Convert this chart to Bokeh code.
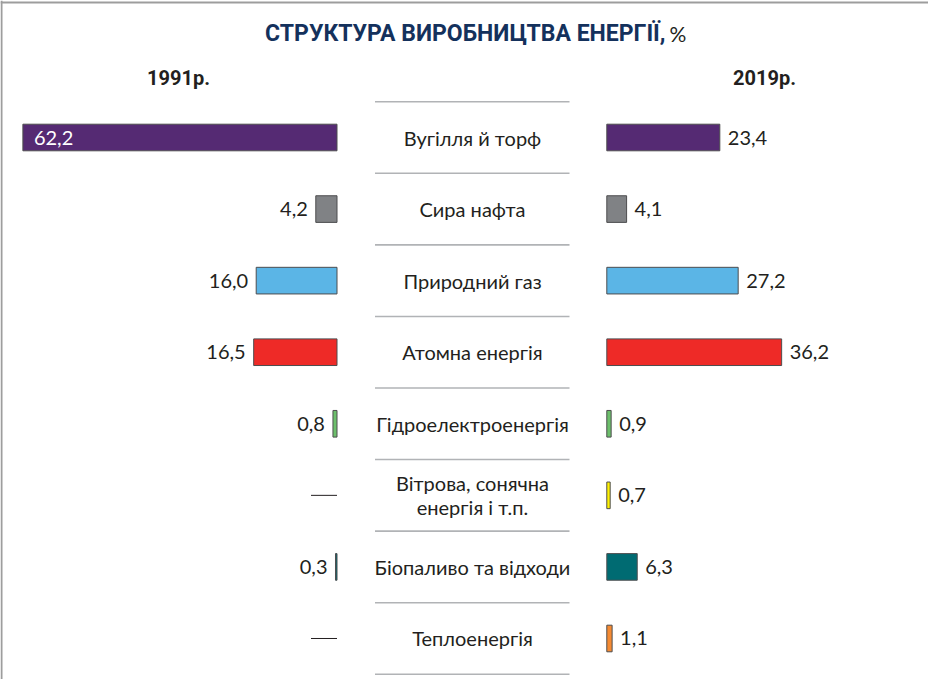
from bokeh.plotting import figure
from bokeh.models import Range1d, ColumnDataSource, Span
from bokeh.core.properties import value
from bokeh.embed import file_html
from bokeh.resources import INLINE

# ---- data ----
categories = ["Вугілля й торф", "Сира нафта", "Природний газ", "Атомна енергія",
              "Гідроелектроенергія", "Вітрова, сонячна\nенергія і т.п.",
              "Біопаливо та відходи", "Теплоенергія"]
v1991 = [62.2, 4.2, 16.0, 16.5, 0.8, None, 0.3, None]
v2019 = [23.4, 4.1, 27.2, 36.2, 0.9, 0.7, 6.3, 1.1]
colors = ["#552a73", "#808285", "#5bb5e6", "#ee2a27", "#6cbf6b", "#fff200", "#006b72", "#f58a32"]
year_left = "1991р."
year_right = "2019р."
title_main = "СТРУКТУРА ВИРОБНИЦТВА ЕНЕРГІЇ,"
title_unit = "%"

# ---- layout constants ----
W, H = 928, 679
LPX = 5.05      # px per percent, left side
RPX = 4.83      # px per percent, right side
LO = (344.5 - 8) / LPX           # left origin (data units of left range)
ROW = 71.57
Y0 = (8 - 145) / ROW
Y1 = (8 + H - 145) / ROW

FONT = value("Lato")
BFONT = value("Roboto")
DARK = "#231f20"

p = figure(width=W, height=H, output_backend="svg", toolbar_location=None,
           x_range=Range1d(0, W / LPX), y_range=Range1d(Y1, Y0),
           x_axis_location=None, y_axis_location=None,
           min_border=0, min_border_left=0, min_border_right=0,
           min_border_top=0, min_border_bottom=0)
p.extra_x_ranges = {"right": Range1d(-606.3 / RPX, (W - 606.3) / RPX)}
p.grid.visible = False
p.outline_line_color = None
p.background_fill_color = "white"
p.border_fill_color = "white"

n = len(categories)
rows = list(range(n))
CX = (480 - 8) / LPX

# frame border (top & left)
p.add_layout(Span(location=0.2, dimension="height", line_color="#9d9d9d", line_width=2))
p.add_layout(Span(location=(10 - 145) / ROW, dimension="width", line_color="#9d9d9d", line_width=2))

# separators
seps = [i - 0.5 for i in range(n + 1)]
p.segment(x0=[(382.5 - 8) / LPX] * len(seps), x1=[(577 - 8) / LPX] * len(seps),
          y0=seps, y1=seps, line_color="#b1b3b6", line_width=1.6)

# category labels
p.text(x=[CX] * n, y=rows, text=categories, text_align="center", text_baseline="middle",
       text_font=FONT, text_font_size="20px", text_color=DARK, text_line_height=1.0)

BH = 0.372
# left bars (1991)
li = [i for i in rows if v1991[i] is not None]
lsrc = ColumnDataSource(dict(
    y=li, left=[LO - v1991[i] for i in li], right=[LO] * len(li),
    c=[colors[i] for i in li],
    lab=[f"{v1991[i]:.1f}".replace(".", ",") for i in li]))
p.hbar(y="y", left="left", right="right", height=BH, fill_color="c",
       line_color="#4d4d4f", line_width=1, source=lsrc)
outside = [k for k, i in enumerate(li) if v1991[i] < 40]
inside = [k for k, i in enumerate(li) if v1991[i] >= 40]
p.text(x=[lsrc.data["left"][k] for k in outside], y=[lsrc.data["y"][k] for k in outside],
       text=[lsrc.data["lab"][k] for k in outside], text_align="right", text_baseline="middle",
       x_offset=-8, text_font=FONT, text_font_size="20px", text_color=DARK)
p.text(x=[lsrc.data["left"][k] for k in inside], y=[lsrc.data["y"][k] for k in inside],
       text=[lsrc.data["lab"][k] for k in inside], text_align="left", text_baseline="middle",
       x_offset=11, text_font=FONT, text_font_size="20px", text_color="white")
# missing values -> dash
mi = [i for i in rows if v1991[i] is None]
p.segment(x0=[LO - 26 / LPX] * len(mi), x1=[LO] * len(mi), y0=mi, y1=mi,
          line_color=DARK, line_width=1)

# right bars (2019)
rsrc = ColumnDataSource(dict(
    y=rows, left=[0] * n, right=v2019, c=colors,
    lab=[f"{v:.1f}".replace(".", ",") for v in v2019]))
p.hbar(y="y", left="left", right="right", height=BH, fill_color="c",
       line_color="#4d4d4f", line_width=1, source=rsrc, x_range_name="right")
p.text(x="right", y="y", text="lab", source=rsrc, x_range_name="right",
       text_align="left", text_baseline="middle", x_offset=8,
       text_font=FONT, text_font_size="20px", text_color=DARK)

# year headers
YY = (85 - 145) / ROW
p.text(x=[(186 - 8) / LPX], y=[YY], text=[year_left], text_align="center",
       text_baseline="middle", text_font=BFONT, text_font_size="20px",
       text_font_style="bold", text_color=DARK)
p.text(x=[(772 - 614.3) / RPX], y=[YY], text=[year_right], text_align="center",
       text_baseline="middle", text_font=BFONT, text_font_size="20px",
       text_font_style="bold", text_color=DARK, x_range_name="right")

# title
TY = (41 - 145) / ROW
p.text(x=[(673 - 8) / LPX], y=[TY], text=[title_main], text_align="right",
       text_baseline="middle", text_font=BFONT, text_font_size="23px",
       text_font_style="bold", text_color="#14315c")
p.text(x=[(677 - 8) / LPX], y=[TY], text=[title_unit], text_align="left",
       text_baseline="middle", text_font=FONT, text_font_size="21px",
       text_color=DARK)

open("out.html", "w").write(file_html(p, INLINE))
